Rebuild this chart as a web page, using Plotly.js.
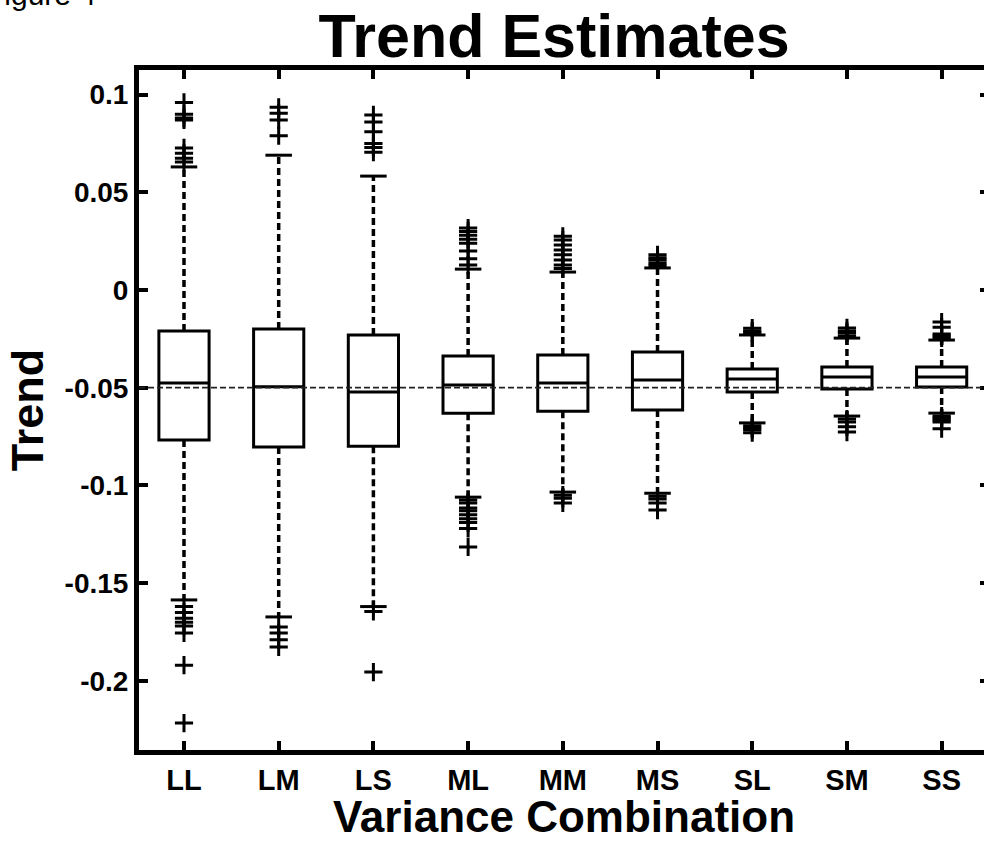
<!DOCTYPE html>
<html>
<head>
<meta charset="utf-8">
<script src="https://cdn.plot.ly/plotly-3.0.1.min.js"></script>
<style>
  html, body { margin: 0; padding: 0; overflow: hidden; background: #ffffff; }
</style>
</head>
<body>
<div id="chart"></div>
<script>
// ---- data ----
const categories = ['LL', 'LM', 'LS', 'ML', 'MM', 'MS', 'SL', 'SM', 'SS'];
const q1Values      = [-0.0768, -0.0803, -0.0800, -0.0630, -0.0620, -0.0614, -0.0522, -0.0507, -0.0496];
const medianValues  = [-0.0476, -0.0495, -0.0522, -0.0486, -0.0476, -0.0460, -0.0455, -0.0445, -0.0445];
const q3Values      = [-0.0210, -0.0200, -0.0230, -0.0338, -0.0333, -0.0317, -0.0404, -0.0394, -0.0394];
const lowerWhisker  = [-0.1586, -0.1673, -0.1620, -0.1060, -0.1034, -0.1040, -0.0680, -0.0645, -0.0630];
const upperWhisker  = [ 0.0630,  0.0690,  0.0583,  0.0107,  0.0092,  0.0113, -0.0230, -0.0246, -0.0256];

const outliersLL = [0.096, 0.090, 0.088, 0.087, 0.0727, 0.0700, 0.0675, 0.0655,
                    -0.162, -0.165, -0.168, -0.170, -0.172, -0.1755, -0.192, -0.2216];
const outliersLM = [0.0935, 0.0905, 0.087, 0.079, -0.1725, -0.1755, -0.179, -0.1827];
const outliersLS = [0.0896, 0.086, 0.081, 0.075, 0.073, 0.0705, -0.1645, -0.1955];
const outliersML = [0.0317, 0.030, 0.028, 0.026, 0.024, 0.020, 0.016, 0.0128,
                    -0.1075, -0.109, -0.1116, -0.113, -0.115, -0.117, -0.119, -0.122, -0.1315];
const outliersMM = [0.0275, 0.0256, 0.023, 0.0205, 0.018, 0.0154, 0.0128, 0.011,
                    -0.105, -0.1065, -0.109];
const outliersMS = [0.018, 0.0165, 0.0154, 0.0138, 0.0125, -0.1055, -0.107, -0.109, -0.1126];
const outliersSL = [-0.0195, -0.021, -0.0218, -0.0695, -0.0705, -0.0715, -0.073];
const outliersSM = [-0.0194, -0.021, -0.022, -0.0235, -0.066, -0.0675, -0.070, -0.0727];
const outliersSS = [-0.0164, -0.019, -0.0225, -0.0235, -0.0245, -0.0645, -0.0655, -0.0665, -0.0675, -0.071];
const outlierSets = [outliersLL, outliersLM, outliersLS, outliersML, outliersMM,
                     outliersMS, outliersSL, outliersSM, outliersSS];

const trueTrend = -0.05;
const yTickValues = [0.1, 0.05, 0, -0.05, -0.1, -0.15, -0.2];
const yTickLabels = ['0.1', '0.05', '0', '-0.05', '-0.1', '-0.15', '-0.2'];

// ---- build traces ----
const positions = categories.map((c, i) => i + 1);
const capHalf = 0.14;

const boxTrace = {
  type: 'box',
  x: positions,
  q1: q1Values,
  median: medianValues,
  q3: q3Values,
  lowerfence: q1Values,
  upperfence: q3Values,
  width: 0.53,
  whiskerwidth: 0,
  boxpoints: false,
  fillcolor: 'rgba(0,0,0,0)',
  line: { color: '#000000', width: 3 },
  hoverinfo: 'skip'
};

const wx = [], wy = [];
positions.forEach((p, i) => {
  wx.push(p, p, null, p, p, null);
  wy.push(q3Values[i], upperWhisker[i], null, q1Values[i], lowerWhisker[i], null);
});
const whiskerTrace = {
  type: 'scatter', mode: 'lines', x: wx, y: wy,
  line: { color: '#000000', width: 3.5, dash: '7px,4px' },
  hoverinfo: 'skip'
};

const cx = [], cy = [];
positions.forEach((p, i) => {
  cx.push(p - capHalf, p + capHalf, null, p - capHalf, p + capHalf, null);
  cy.push(upperWhisker[i], upperWhisker[i], null, lowerWhisker[i], lowerWhisker[i], null);
});
const capTrace = {
  type: 'scatter', mode: 'lines', x: cx, y: cy,
  line: { color: '#000000', width: 3 },
  hoverinfo: 'skip'
};

const ox = [], oy = [];
outlierSets.forEach((set, i) => {
  set.forEach(v => { ox.push(positions[i]); oy.push(v); });
});
const outlierTrace = {
  type: 'scatter', mode: 'markers', x: ox, y: oy,
  marker: { symbol: 'cross-thin', size: 13, color: '#000000', line: { color: '#000000', width: 3 } },
  hoverinfo: 'skip'
};

const fontFamily = '"Liberation Sans", Arial, Helvetica, sans-serif';

const layout = {
  width: 1000,
  height: 841,
  margin: { l: 139, r: 11, t: 70, b: 91 },
  paper_bgcolor: '#ffffff',
  plot_bgcolor: '#ffffff',
  showlegend: false,
  font: { family: fontFamily, color: '#000000' },
  title: {
    text: 'Trend Estimates',
    font: { family: fontFamily, size: 61, weight: 'bold', color: '#000000' },
    x: 554 / 1000, xref: 'container', xanchor: 'center',
    y: 1 - 36 / 841, yref: 'container', yanchor: 'middle'
  },
  xaxis: {
    range: [0.525, 9.5],
    tickmode: 'array',
    tickvals: positions,
    ticktext: categories,
    ticks: 'inside', ticklen: 9, tickwidth: 4, tickcolor: '#000000',
    showline: true, linewidth: 5, linecolor: '#000000', mirror: 'ticks',
    showgrid: false, zeroline: false,
    tickfont: { family: fontFamily, size: 29, weight: 'bold', color: '#000000' },
    title: {
      text: 'Variance Combination',
      font: { family: fontFamily, size: 44, weight: 'bold', color: '#000000' },
      standoff: 0
    }
  },
  yaxis: {
    range: [-0.2354, 0.1126],
    tickmode: 'array',
    tickvals: yTickValues,
    ticktext: yTickLabels,
    ticks: 'inside', ticklen: 9, tickwidth: 4, tickcolor: '#000000',
    showline: true, linewidth: 5, linecolor: '#000000', mirror: 'ticks',
    showgrid: false, zeroline: false,
    tickfont: { family: fontFamily, size: 28, weight: 'bold', color: '#000000' },
    title: {
      text: 'Trend',
      font: { family: fontFamily, size: 45, weight: 'bold', color: '#000000' },
      standoff: 8
    }
  },
  shapes: [{
    type: 'line', xref: 'paper', x0: 0, x1: 1, yref: 'y', y0: trueTrend, y1: trueTrend,
    line: { color: '#222222', width: 1.8, dash: '6px,3px' }, layer: 'above'
  }],
  annotations: [{
    text: 'Figure 4', showarrow: false,
    xref: 'paper', yref: 'paper',
    x: (-16 - 139) / 850, xanchor: 'left',
    y: (750 - 13) / 680, yanchor: 'bottom',
    font: { family: fontFamily, size: 30, color: '#000000' }
  }]
};

Plotly.newPlot('chart', [boxTrace, whiskerTrace, capTrace, outlierTrace], layout,
  { displayModeBar: false, staticPlot: true });
</script>
</body>
</html>
